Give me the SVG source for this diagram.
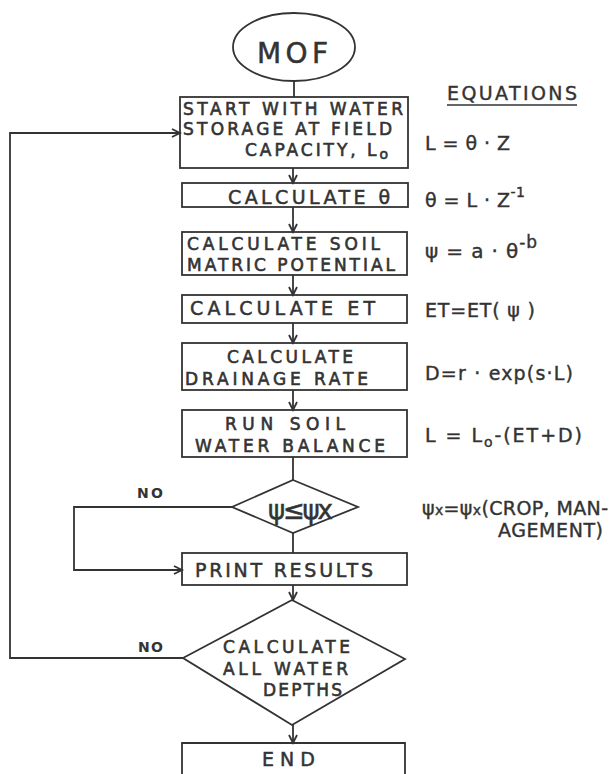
<svg xmlns="http://www.w3.org/2000/svg" width="609" height="774" viewBox="0 0 609 774">
<style>
.s{fill:none;stroke:#333;stroke-width:1.8}
.t{font-family:"DejaVu Sans","Liberation Sans",sans-serif;fill:#333;stroke:#333;stroke-width:0.5;font-size:19px}
.m{font-family:"DejaVu Sans","Liberation Sans",sans-serif;fill:#333;stroke:#333;stroke-width:0.6;font-size:17px}
.e{font-family:"DejaVu Sans","Liberation Sans",sans-serif;fill:#333;stroke:#333;stroke-width:0.4;font-size:19px}
.no{font-family:"DejaVu Sans","Liberation Sans",sans-serif;fill:#333;font-size:14px;font-weight:bold}
</style>
<defs>
<marker id="ah" markerUnits="userSpaceOnUse" markerWidth="12" markerHeight="12" refX="9" refY="5" orient="auto">
<path d="M1,1 L9,5 L1,9" fill="none" stroke="#333" stroke-width="1.8"/>
</marker>
</defs>
<rect width="609" height="774" fill="#fff"/>

<g id="connectors" class="s">
<line x1="294" y1="81" x2="294" y2="97"/>
<line x1="293" y1="168" x2="293" y2="183" marker-end="url(#ah)"/>
<line x1="293" y1="207" x2="293" y2="232" marker-end="url(#ah)"/>
<line x1="293" y1="275" x2="293" y2="295" marker-end="url(#ah)"/>
<line x1="293" y1="323" x2="293" y2="343" marker-end="url(#ah)"/>
<line x1="293" y1="390" x2="293" y2="410" marker-end="url(#ah)"/>
<line x1="293" y1="457" x2="293" y2="480"/>
<line x1="293" y1="533" x2="293" y2="553"/>
<polyline points="232,507 74,507 74,570 182,570" marker-end="url(#ah)"/>
<line x1="293" y1="585" x2="293" y2="600" marker-end="url(#ah)"/>
<polyline points="183,658 10,658 10,133 180,133" marker-end="url(#ah)"/>
<line x1="293" y1="725" x2="293" y2="743" marker-end="url(#ah)"/>
</g>

<g id="mof">
<ellipse class="s" cx="294" cy="47" rx="61" ry="34"/>
<text class="t" x="257" y="63" style="font-size:28px" textLength="71">MOF</text>
</g>

<g id="start">
<rect class="s" x="180" y="97" width="228" height="71"/>
<text class="m" x="183" y="115" textLength="220">START WITH WATER</text>
<text class="m" x="183" y="135" textLength="209">STORAGE AT FIELD</text>
<text class="m" x="245" y="156" textLength="143">CAPACITY, L<tspan dy="3" style="font-size:14px">o</tspan></text>
</g>

<g id="calc-theta">
<rect class="s" x="182" y="183" width="226" height="24"/>
<text class="t" x="228" y="204" textLength="162">CALCULATE θ</text>
</g>

<g id="calc-soil">
<rect class="s" x="182" y="232" width="225" height="43"/>
<text class="m" x="187" y="250" textLength="193">CALCULATE SOIL</text>
<text class="m" x="187" y="271" textLength="208">MATRIC POTENTIAL</text>
</g>

<g id="calc-et">
<rect class="s" x="182" y="295" width="225" height="28"/>
<text class="t" x="190" y="315" textLength="185">CALCULATE ET</text>
</g>

<g id="calc-drain">
<rect class="s" x="182" y="343" width="225" height="47"/>
<text class="m" x="227" y="363" textLength="126">CALCULATE</text>
<text class="m" x="185" y="385" textLength="183">DRAINAGE RATE</text>
</g>

<g id="run-balance">
<rect class="s" x="182" y="410" width="225" height="47"/>
<text class="m" x="225" y="430" textLength="120">RUN SOIL</text>
<text class="m" x="195" y="452" textLength="190">WATER BALANCE</text>
</g>

<g id="decision-psi">
<polygon class="s" points="293,480 358,507 293,533 232,507"/>
<text class="t" x="268" y="519" style="font-size:26px" textLength="65">ψ≤ψx</text>
<text class="no" x="137" y="498" textLength="26">NO</text>
</g>

<g id="print">
<rect class="s" x="182" y="553" width="225" height="32"/>
<text class="t" x="195" y="577" textLength="178">PRINT RESULTS</text>
</g>

<g id="decision-depths">
<polygon class="s" points="292,600 405,659 292,725 183,658"/>
<text class="m" x="223" y="653" textLength="127">CALCULATE</text>
<text class="m" x="223" y="675" textLength="125">ALL WATER</text>
<text class="m" x="263" y="696" textLength="79">DEPTHS</text>
<text class="no" x="138" y="652" textLength="25">NO</text>
</g>

<g id="end">
<path class="s" d="M182,780 L182,743 L405,743 L405,780"/>
<text class="t" x="262" y="766" textLength="53">END</text>
</g>

<g id="equations">
<text class="e" x="447" y="100" textLength="130">EQUATIONS</text>
<line class="s" x1="447" y1="105" x2="577" y2="105" style="stroke-width:1.5"/>
<text class="e" x="425" y="150" textLength="85">L = θ · Z</text>
<text class="e" x="425" y="207" textLength="100">θ = L · Z<tspan dy="-10" style="font-size:14px">-1</tspan></text>
<text class="e" x="425" y="258" style="font-size:20px" textLength="112">ψ = a · θ<tspan dy="-10" style="font-size:17px">-b</tspan></text>
<text class="e" x="425" y="317" textLength="110">ET=ET( ψ )</text>
<text class="e" x="425" y="380" textLength="148">D=r · exp(s·L)</text>
<text class="e" x="425" y="442" textLength="157">L = L<tspan dy="5" style="font-size:14px">o</tspan><tspan dy="-5">-(ET+D)</tspan></text>
<text class="e" x="422" y="515" textLength="186">ψ<tspan style="font-size:14px">x</tspan>=ψ<tspan style="font-size:14px">x</tspan>(CROP, MAN-</text>
<text class="e" x="498" y="537" textLength="105">AGEMENT)</text>
</g>
</svg>
